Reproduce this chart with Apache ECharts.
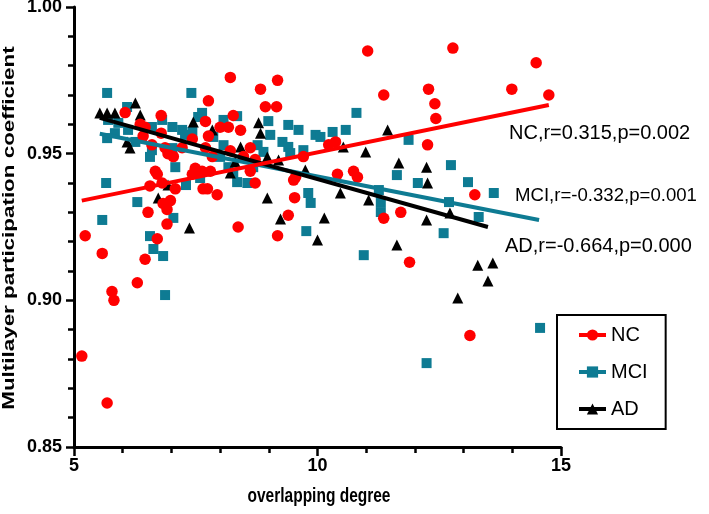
<!DOCTYPE html>
<html>
<head>
<meta charset="utf-8">
<script src="https://cdn.jsdelivr.net/npm/echarts@6/dist/echarts.min.js"></script>
<style>
html,body{margin:0;padding:0;background:#fff;}
#chart{width:709px;height:514px;}
</style>
</head>
<body>
<div id="chart"></div>
<script>
// ---- data ----
var nc = [[11.03,0.985],[12.78,0.986],[14.49,0.981],[13.99,0.972],[14.75,0.970],[11.36,0.970],[12.28,0.972],[12.41,0.967],[12.43,0.962],[12.26,0.953],[10.41,0.943],[10.74,0.944],[10.82,0.942],[13.23,0.936],[11.71,0.930],[11.36,0.928],[13.13,0.888],[11.89,0.913],[10.23,0.953],[10.37,0.954],[9.71,0.949],[8.21,0.976],[9.18,0.975],[8.83,0.972],[7.76,0.968],[8.93,0.966],[9.16,0.966],[8.27,0.963],[7.70,0.961],[8.00,0.959],[8.17,0.959],[8.42,0.958],[7.76,0.956],[7.70,0.952],[8.21,0.951],[8.62,0.952],[7.84,0.949],[8.48,0.949],[8.72,0.948],[8.62,0.944],[7.80,0.944],[9.55,0.942],[6.05,0.964],[6.79,0.963],[6.36,0.960],[6.46,0.959],[6.42,0.956],[6.79,0.957],[6.60,0.953],[6.87,0.952],[7.22,0.952],[6.93,0.950],[7.04,0.949],[7.43,0.955],[6.67,0.944],[7.49,0.945],[7.43,0.943],[7.63,0.944],[5.23,0.922],[6.56,0.939],[6.71,0.943],[6.81,0.940],[7.08,0.938],[6.83,0.933],[6.98,0.934],[6.91,0.931],[6.52,0.930],[6.91,0.926],[6.71,0.921],[6.46,0.914],[5.58,0.916],[6.30,0.906],[7.65,0.938],[5.78,0.903],[5.82,0.900],[5.16,0.881],[5.68,0.865],[8.37,0.925],[9.18,0.922],[9.40,0.929],[9.51,0.941],[9.53,0.935],[8.72,0.940],[7.74,0.938],[7.94,0.936]];
var mci = [[5.68,0.9707],[7.41,0.9707],[6.09,0.9659],[5.70,0.9615],[5.91,0.9605],[5.84,0.9570],[6.11,0.9581],[5.68,0.9553],[6.60,0.9591],[6.81,0.9615],[7.02,0.9591],[7.22,0.9581],[7.28,0.9564],[6.60,0.9512],[7.08,0.9454],[7.02,0.9519],[7.55,0.9625],[7.43,0.9574],[6.26,0.9540],[6.56,0.9489],[5.66,0.9400],[6.30,0.9335],[5.58,0.9274],[6.56,0.9219],[6.63,0.9175],[6.83,0.9151],[7.04,0.9281],[7.30,0.9393],[7.59,0.9417],[6.87,0.9018],[8.35,0.9403],[8.56,0.9400],[9.81,0.9366],[9.86,0.9332],[9.77,0.9236],[7.63,0.9639],[8.07,0.9615],[8.35,0.9628],[8.99,0.9611],[9.40,0.9598],[9.61,0.9581],[9.96,0.9564],[9.03,0.9564],[9.28,0.9540],[9.40,0.9523],[9.71,0.9512],[9.44,0.9502],[7.86,0.9557],[8.07,0.9529],[8.00,0.9489],[8.77,0.9529],[8.89,0.9506],[8.17,0.9454],[8.27,0.9434],[10.80,0.9639],[10.31,0.9574],[10.58,0.9581],[10.06,0.9557],[11.87,0.9547],[12.74,0.9461],[13.09,0.9403],[13.62,0.9366],[11.63,0.9427],[12.06,0.9400],[11.26,0.9376],[11.30,0.9335],[11.30,0.9301],[12.70,0.9335],[13.31,0.9284],[12.59,0.9229],[10.95,0.9154],[14.57,0.8906],[12.24,0.8786],[8.68,0.9454]];
var ad = [[5.53,0.9639],[5.68,0.9639],[5.84,0.9639],[6.26,0.9673],[6.36,0.9632],[6.09,0.9540],[6.15,0.9519],[7.45,0.9608],[8.79,0.9605],[8.83,0.9570],[7.84,0.9581],[8.42,0.9523],[8.97,0.9489],[9.20,0.9478],[8.31,0.9472],[9.75,0.9444],[8.21,0.9434],[6.93,0.9393],[6.73,0.9349],[7.37,0.9247],[8.97,0.9349],[9.24,0.9277],[10.00,0.9206],[10.14,0.9281],[11.44,0.9581],[10.53,0.9523],[10.99,0.9506],[11.67,0.9468],[12.24,0.9454],[12.26,0.9400],[10.47,0.9366],[11.05,0.9342],[12.72,0.9298],[12.24,0.9274],[11.63,0.9189],[13.29,0.9120],[13.60,0.9127],[13.50,0.9066],[12.88,0.9008]];
var fitNC = [[5.16,0.934],[14.75,0.9666]];
var fitMCI = [[5.53,0.9568],[14.55,0.9274]];
var fitAD = [[5.53,0.9622],[13.50,0.9250]];
var groupNames = ['NC','MCI','AD'];
var statLabels = ['NC,r=0.315,p=0.002','MCI,r=-0.332,p=0.001','AD,r=-0.664,p=0.000'];
var xTitle = 'overlapping degree';
var yTitle = 'Multilayer participation coefficient';
var xTicks = [5,10,15];
var yTicks = [0.85,0.90,0.95,1.00];

var RED = '#ff0000', TEAL = '#0e7b93', BLACK = '#000000';
var FONT = 'Liberation Sans, Arial, Helvetica, sans-serif';

var chart = echarts.init(document.getElementById('chart'), null, {renderer:'canvas'});

function markerSeries(name, data, symbol, size, color, z) {
  return {
    name: name, type: 'line', data: data,
    symbol: symbol, symbolSize: size, showSymbol: true, showAllSymbol: true,
    lineStyle: {color: color, width: 4, opacity: 0},
    itemStyle: {color: color, opacity: 1},
    z: z, animation: false, silent: true
  };
}
function fitSeries(data, color, width) {
  return {
    type: 'line', data: data, symbol: 'none',
    lineStyle: {color: color, width: width},
    z: 6, animation: false, silent: true
  };
}

var option = {
  animation: false,
  grid: {left: 74, right: 148, top: 7, bottom: 67, containLabel: false, outerBoundsMode: 'none'},
  xAxis: {
    type: 'value', min: xTicks[0], max: xTicks[xTicks.length-1], interval: 5,
    axisLine: {show: true, lineStyle: {color: '#000', width: 3}},
    axisTick: {show: true, length: 9, lineStyle: {color: '#000', width: 2.5}},
    minorTick: {show: true, splitNumber: 5, length: 6, lineStyle: {color: '#000', width: 2.5}},
    splitLine: {show: false},
    axisLabel: {fontFamily: FONT, fontWeight: 'bold', fontSize: 18, color: '#000', margin: 10,
      formatter: function(v){ return xTicks.indexOf(v) >= 0 ? String(v) : ''; }}
  },
  yAxis: {
    type: 'value', min: yTicks[0], max: yTicks[yTicks.length-1], interval: 0.05,
    axisLine: {show: true, lineStyle: {color: '#000', width: 3}},
    axisTick: {show: true, length: 8, lineStyle: {color: '#000', width: 2.5}},
    minorTick: {show: true, splitNumber: 5, length: 6, lineStyle: {color: '#000', width: 2.5}},
    splitLine: {show: false},
    axisLabel: {fontFamily: FONT, fontWeight: 'bold', fontSize: 18, color: '#000', margin: 12,
      formatter: function(v){ return v.toFixed(2); }}
  },
  legend: {
    data: groupNames, orient: 'vertical', left: 557, top: 315,
    padding: [10, 18, 10, 20], itemWidth: 27, itemHeight: 14, itemGap: 17,
    borderColor: '#000', borderWidth: 2, backgroundColor: '#fff',
    lineStyle: {width: 4, opacity: 1},
    textStyle: {fontFamily: FONT, fontSize: 20, color: '#000', lineHeight: 20},
    selectedMode: false
  },
  graphic: [
    {type: 'text', x: 10, y: 228, rotation: Math.PI / 2, scaleX: 1.4,
      style: {text: yTitle, font: 'bold 16px ' + FONT, fill: '#000', align: 'center', verticalAlign: 'middle'}},
    {type: 'text', x: 319, y: 497, scaleY: 1.25,
      style: {text: xTitle, font: 'bold 15.5px ' + FONT, fill: '#000', align: 'center', verticalAlign: 'middle'}},
    {type: 'text', left: 509, top: 123, style: {text: statLabels[0], font: '20px ' + FONT, fill: '#000'}},
    {type: 'text', left: 515, top: 186, style: {text: statLabels[1], font: '18.6px ' + FONT, fill: '#000'}},
    {type: 'text', left: 505, top: 236, style: {text: statLabels[2], font: '20px ' + FONT, fill: '#000'}}
  ],
  series: [
    markerSeries(groupNames[1], mci, 'rect', 10, TEAL, 2),
    markerSeries(groupNames[2], ad, 'triangle', 11, BLACK, 3),
    markerSeries(groupNames[0], nc, 'circle', 11.5, RED, 4),
    fitSeries(fitMCI, TEAL, 4),
    fitSeries(fitAD, BLACK, 4),
    fitSeries(fitNC, RED, 4)
  ]
};
chart.setOption(option);
</script>
</body>
</html>
